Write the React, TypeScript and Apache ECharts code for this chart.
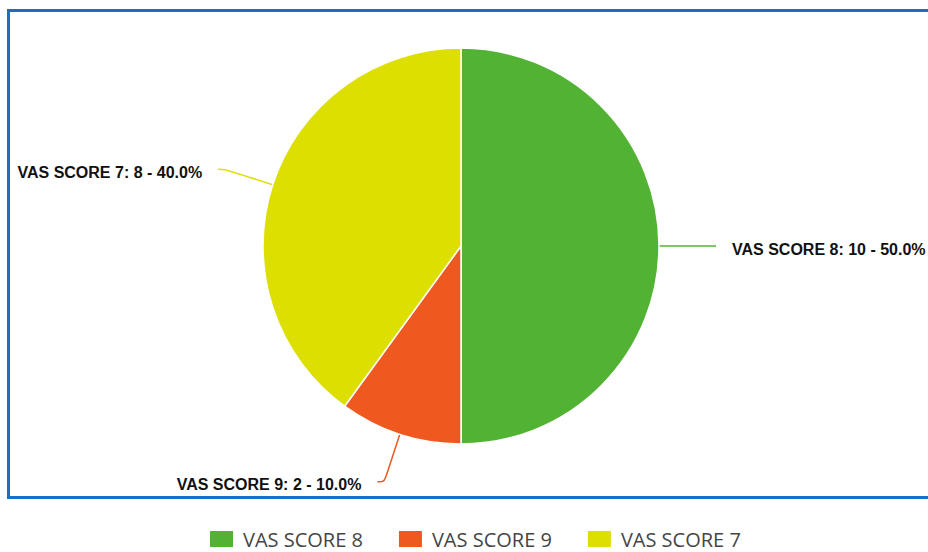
import React, { useEffect, useRef } from "react";
import * as echarts from "echarts";

const categories = ["VAS SCORE 8", "VAS SCORE 9", "VAS SCORE 7"];
const values = [10, 2, 8];
const colors = ["#52b234", "#ef581e", "#dcdf00"];

export default function App() {
  const ref = useRef<HTMLDivElement>(null);
  useEffect(() => {
    if (!ref.current) return;
    const chart = echarts.init(ref.current, null, { renderer: "svg" });
    chart.setOption({
      animation: false,
      backgroundColor: "#ffffff",
      color: colors,
      graphic: [
        {
          type: "rect",
          shape: { x: 8.5, y: 10.5, width: 930, height: 487 },
          style: { fill: "none", stroke: "#1a6fc4", lineWidth: 3 },
          silent: true,
        },
      ],
      legend: {
        bottom: -2,
        left: 203,
        itemWidth: 25,
        itemHeight: 18,
        itemGap: 34,
        icon: "rect",
        textStyle: {
          fontFamily: "Open Sans",
          fontSize: 20,
          lineHeight: 18,
          color: "#454545",
          padding: [0, 0, 0, 4],
        },
        data: categories,
      },
      series: [
        {
          type: "pie",
          center: [461, 246],
          radius: 198,
          startAngle: 90,
          clockwise: true,
          bleedMargin: 0,
          itemStyle: { borderColor: "#ffffff", borderWidth: 1.5 },
          label: {
            show: true,
            position: "outside",
            overflow: "none",
            distanceToLabelLine: 16,
            formatter: (p: any) => `{t|${p.name}: ${p.value} - ${p.percent.toFixed(1)}%}`,
            rich: {
              t: {
                fontFamily: "Liberation Sans, Arial, sans-serif",
                fontWeight: "bold",
                fontSize: 16,
                color: "#111111",
                padding: [6, 0, 0, 0],
              },
            },
          },
          labelLine: {
            show: true,
            length: 50,
            length2: 7,
            smooth: true,
            lineStyle: { width: 1.5 },
          },
          emphasis: { disabled: true },
          data: categories.map((c, i) => ({ name: c, value: values[i] })),
        },
      ],
    });
    return () => chart.dispose();
  }, []);
  return (
    <div
      ref={ref}
      style={{ position: "fixed", left: 0, top: 0, width: 928, height: 552 }}
    />
  );
}
